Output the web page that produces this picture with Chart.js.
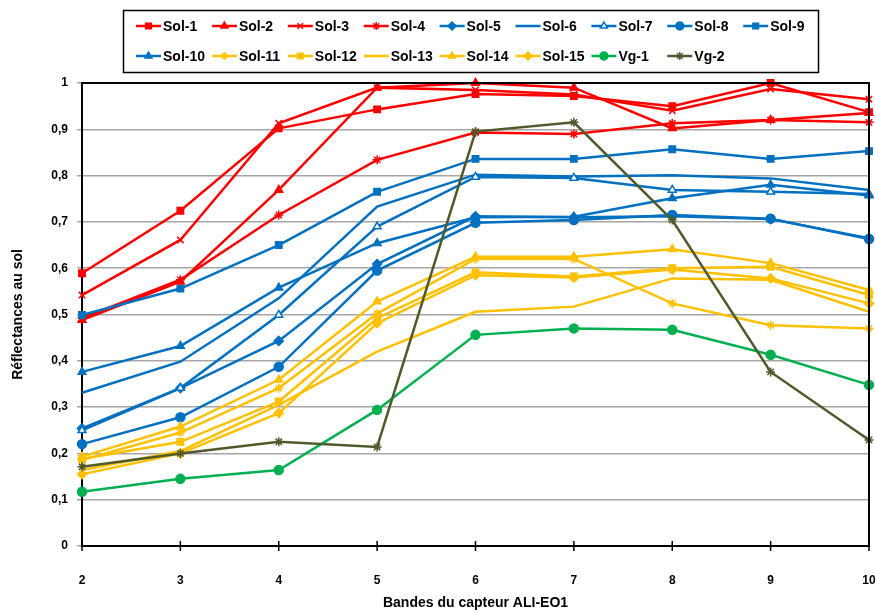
<!DOCTYPE html>
<html>
<head>
<meta charset="utf-8">
<script src="https://cdn.jsdelivr.net/npm/chart.js@4.4.1/dist/chart.umd.min.js"></script>
<style>
	html, body { margin: 0; padding: 0; background: #fff; }
</style>
</head>
<body>
<canvas id="chart_reflectance" width="875" height="615"></canvas>
<script>
// bandes ALI-EO1
var bandes = ['2', '3', '4', '5', '6', '7', '8', '9', '10'];

var sol_1  = [0.589, 0.724, 0.902, 0.943, 0.976, 0.972, 0.950, 1.000, 0.937];
var sol_2  = [0.488, 0.571, 0.769, 0.990, 1.000, 0.990, 0.902, 0.920, 0.935];
var sol_3  = [0.542, 0.661, 0.913, 0.990, 0.985, 0.975, 0.940, 0.987, 0.965];
var sol_4  = [0.492, 0.575, 0.715, 0.834, 0.893, 0.890, 0.913, 0.920, 0.915];
var sol_5  = [0.254, 0.341, 0.443, 0.609, 0.712, 0.710, 0.712, 0.706, 0.665];
var sol_6  = [0.331, 0.398, 0.535, 0.733, 0.802, 0.798, 0.801, 0.794, 0.769];
var sol_7  = [0.250, 0.341, 0.499, 0.690, 0.797, 0.795, 0.769, 0.765, 0.760];
var sol_8  = [0.220, 0.278, 0.387, 0.595, 0.698, 0.704, 0.715, 0.707, 0.663];
var sol_9  = [0.499, 0.556, 0.650, 0.765, 0.836, 0.836, 0.857, 0.836, 0.853];
var sol_10 = [0.376, 0.432, 0.558, 0.654, 0.710, 0.711, 0.751, 0.780, 0.757];
var sol_11 = [0.186, 0.245, 0.341, 0.502, 0.620, 0.620, 0.524, 0.477, 0.470];
var sol_12 = [0.188, 0.225, 0.312, 0.492, 0.591, 0.582, 0.600, 0.603, 0.542];
var sol_13 = [0.164, 0.205, 0.305, 0.420, 0.506, 0.517, 0.578, 0.575, 0.506];
var sol_14 = [0.193, 0.258, 0.359, 0.528, 0.625, 0.625, 0.641, 0.611, 0.553];
var sol_15 = [0.155, 0.200, 0.287, 0.481, 0.585, 0.580, 0.597, 0.578, 0.524];
var vg_1   = [0.117, 0.145, 0.164, 0.294, 0.456, 0.470, 0.467, 0.413, 0.348];
var vg_2   = [0.171, 0.200, 0.225, 0.214, 0.895, 0.915, 0.704, 0.376, 0.229];

var ROUGE = '#ff0000', BLEU = '#0070c0', JAUNE = '#ffc000', VERT = '#00b050', OLIVE = '#4f5a2a';
var FONT = '"Liberation Sans", Arial, sans-serif';

function serie(label, data, color, style, fill){
	return {
		label: label,
		data: data,
		borderColor: color,
		backgroundColor: fill || color,
		pointStyle: style || 'circle',
		pointRadius: style ? 4.5 : 0,
		pointHoverRadius: style ? 4.5 : 0,
		pointBorderColor: color,
		pointBackgroundColor: fill || color,
		pointBorderWidth: 1.5,
		borderWidth: 2.5,
		tension: 0,
		clip: false
	};
}

var datasets = [
	serie('Sol-1', sol_1, ROUGE, 'rect'),
	serie('Sol-2', sol_2, ROUGE, 'triangle'),
	serie('Sol-3', sol_3, ROUGE, 'crossRot'),
	serie('Sol-4', sol_4, ROUGE, 'star'),
	serie('Sol-5', sol_5, BLEU, 'rectRot'),
	serie('Sol-6', sol_6, BLEU, null),
	serie('Sol-7', sol_7, BLEU, 'triangle', '#ffffff'),
	serie('Sol-8', sol_8, BLEU, 'circle'),
	serie('Sol-9', sol_9, BLEU, 'rect'),
	serie('Sol-10', sol_10, BLEU, 'triangle'),
	serie('Sol-11', sol_11, JAUNE, 'star'),
	serie('Sol-12', sol_12, JAUNE, 'rect'),
	serie('Sol-13', sol_13, JAUNE, null),
	serie('Sol-14', sol_14, JAUNE, 'triangle'),
	serie('Sol-15', sol_15, JAUNE, 'rectRot'),
	serie('Vg-1', vg_1, VERT, 'circle'),
	serie('Vg-2', vg_2, OLIVE, 'star')
];
// last series on top, like the original
datasets.forEach(function(d, i){ d.order = datasets.length - i; });

// legend box + plot frame + x tick marks
var cadre = {
	id: 'cadre',
	afterDraw: function(chart){
		var ctx = chart.ctx;
		var a = chart.chartArea;
		ctx.save();

		ctx.strokeStyle = '#000';
		ctx.lineWidth = 2;
		ctx.beginPath();
		ctx.moveTo(a.left, a.top);
		ctx.lineTo(a.right, a.top);
		ctx.lineTo(a.right, a.bottom);
		ctx.stroke();

		var xs = chart.scales.x;
		ctx.lineWidth = 1.5;
		for(var t = 0; t < bandes.length; t++){
			var px = xs.getPixelForValue(t);
			ctx.beginPath();
			ctx.moveTo(px, a.bottom - 5);
			ctx.lineTo(px, a.bottom + 5);
			ctx.stroke();
		}

		ctx.lineWidth = 1.5;
		ctx.strokeRect(123.5, 10.5, 695, 62);

		ctx.font = 'bold 14px ' + FONT;
		ctx.textBaseline = 'middle';
		ctx.textAlign = 'left';
		chart.data.datasets.forEach(function(ds, i){
			var col = i < 9 ? i : i - 9;
			var y = i < 9 ? 26 : 56;
			var x0 = 136 + col * 75.9;
			ctx.strokeStyle = ds.borderColor;
			ctx.lineWidth = 2.5;
			ctx.beginPath();
			ctx.moveTo(x0, y);
			ctx.lineTo(x0 + 25, y);
			ctx.stroke();
			if(ds.pointRadius > 0 && Chart.helpers && Chart.helpers.drawPoint){
				ctx.fillStyle = ds.pointBackgroundColor;
				ctx.lineWidth = 1.5;
				Chart.helpers.drawPoint(ctx, {pointStyle: ds.pointStyle, radius: 4, rotation: 0, borderWidth: 1.5}, x0 + 12.5, y);
			}
			ctx.fillStyle = '#000';
			ctx.fillText(ds.label, x0 + 27, y + 1);
		});
		ctx.restore();
	}
};

window.chartReflectance = new Chart(document.getElementById('chart_reflectance'), {
	type: 'line',
	data: {
		labels: bandes,
		datasets: datasets
	},
	options: {
		responsive: false,
		animation: false,
		layout: {
			padding: { top: 83, right: 3, left: 0, bottom: 0 }
		},
		plugins: {
			legend: { display: false },
			tooltip: { enabled: false }
		},
		scales: {
			x: {
				type: 'category',
				offset: false,
				grid: { display: false, drawTicks: false },
				border: { display: true, color: '#000', width: 2 },
				ticks: {
					color: '#000',
					padding: 27,
					maxRotation: 0,
					autoSkip: false,
					font: { family: FONT, size: 12, weight: 'bold' }
				},
				title: {
					display: true,
					text: 'Bandes du capteur ALI-EO1',
					color: '#000',
					padding: { top: 0, bottom: 3 },
					font: { family: FONT, size: 14, weight: 'bold' }
				},
				afterFit: function(s){
					s.height = 69;
					s.paddingLeft = 0;
					s.paddingRight = 0;
				}
			},
			y: {
				min: 0,
				max: 1,
				grid: {
					color: '#a6a6a6',
					lineWidth: 1.5,
					drawTicks: true,
					tickLength: 5
				},
				border: { display: true, color: '#000', width: 2 },
				ticks: {
					stepSize: 0.1,
					color: '#000',
					padding: 9,
					font: { family: FONT, size: 12, weight: 'bold' },
					callback: function(v){
						return String(Math.round(v * 10) / 10).replace('.', ',');
					}
				},
				title: {
					display: true,
					text: 'Réflectances au sol',
					color: '#000',
					padding: { top: 10, bottom: 0 },
					font: { family: FONT, size: 14, weight: 'bold' }
				},
				afterFit: function(s){
					s.width = 82;
					s.paddingTop = 0;
					s.paddingBottom = 0;
				}
			}
		}
	},
	plugins: [cadre]
});
</script>
</body>
</html>
